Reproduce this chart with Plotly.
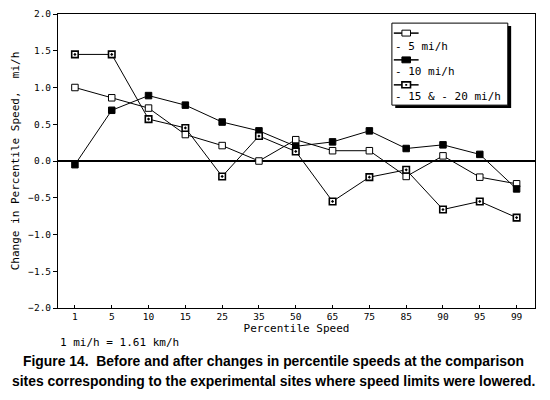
import plotly.graph_objects as go

# percentile categories on the x axis
percentiles = ["1", "5", "10", "15", "25", "35", "50", "65", "75", "85", "90", "95", "99"]

# change in percentile speed (mi/h) per speed limit reduction
change_5mph = [1.00, 0.86, 0.72, 0.36, 0.21, 0.00, 0.29, 0.14, 0.14, -0.21, 0.07, -0.22, -0.31]
change_10mph = [-0.05, 0.69, 0.89, 0.76, 0.53, 0.41, 0.20, 0.26, 0.41, 0.17, 0.22, 0.09, -0.38]
change_15_20mph = [1.45, 1.45, 0.57, 0.45, -0.21, 0.34, 0.13, -0.55, -0.22, -0.12, -0.66, -0.55, -0.77]

legend_labels = ["- 5 mi/h", "- 10 mi/h", "- 15 & - 20 mi/h"]

mono = "DejaVu Sans Mono"

fig = go.Figure()

fig.add_trace(go.Scatter(
    x=percentiles, y=change_5mph, mode="lines+markers", name=legend_labels[0],
    line=dict(color="black", width=1),
    marker=dict(symbol="square", size=6.5, color="white", line=dict(color="black", width=1)),
))
fig.add_trace(go.Scatter(
    x=percentiles, y=change_10mph, mode="lines+markers", name=legend_labels[1],
    line=dict(color="black", width=1),
    marker=dict(symbol="square", size=6.5, color="black", line=dict(color="black", width=1)),
))
fig.add_trace(go.Scatter(
    x=percentiles, y=change_15_20mph, mode="lines+markers", name=legend_labels[2],
    line=dict(color="black", width=1),
    marker=dict(symbol="square-dot", size=6.5, color="white", line=dict(color="black", width=1.6)),
))

# hand-drawn legend box (symbol on one row, label below, like the original)
shapes = [
    dict(type="rect", xref="paper", yref="paper", x0=0.707, x1=0.950, y0=0.680, y1=0.959,
         fillcolor="black", line=dict(width=0)),
    dict(type="rect", xref="paper", yref="paper", x0=0.700, x1=0.943, y0=0.690, y1=0.969,
         fillcolor="white", line=dict(color="black", width=1)),
]
sym_rows = [0.935, 0.844, 0.759]
txt_rows = [0.888, 0.806, 0.718]
fills = ["white", "black", "white"]
for i in range(3):
    yc = sym_rows[i]
    shapes.append(dict(type="line", xref="paper", yref="paper", x0=0.704, x1=0.756, y0=yc, y1=yc,
                       line=dict(color="black", width=1.5)))
    shapes.append(dict(type="rect", xref="paper", yref="paper", x0=0.721, x1=0.739,
                       y0=yc - 0.010, y1=yc + 0.010, fillcolor=fills[i],
                       line=dict(color="black", width=1.6 if i == 2 else 1)))
    if i == 2:
        shapes.append(dict(type="rect", xref="paper", yref="paper", x0=0.728, x1=0.732,
                           y0=yc - 0.003, y1=yc + 0.003, fillcolor="black", line=dict(width=0)))

annotations = [
    dict(text=legend_labels[i], x=0.703, y=txt_rows[i], xref="paper", yref="paper",
         xanchor="left", yanchor="middle", showarrow=False, font=dict(family=mono, size=11))
    for i in range(3)
]
annotations += [
    dict(text="1 mi/h = 1.61 km/h", x=0.0, y=-0.119, xref="paper", yref="paper",
         xanchor="left", yanchor="middle", showarrow=False, font=dict(family=mono, size=11)),
    dict(text="<b>Figure 14.  Before and after changes in percentile speeds at the comparison</b>",
         x=0.452, y=-0.180, xref="paper", yref="paper", xanchor="center", yanchor="middle",
         showarrow=False, font=dict(family="Liberation Sans", size=13.9)),
    dict(text="<b>sites corresponding to the experimental sites where speed limits were lowered.</b>",
         x=0.452, y=-0.248, xref="paper", yref="paper", xanchor="center", yanchor="middle",
         showarrow=False, font=dict(family="Liberation Sans", size=13.9)),
]

# page body adds an 8px offset, so margins are shifted to keep the plot at x 58-535, y 14-308
fig.update_layout(
    width=550, height=400,
    margin=dict(l=50, r=23, t=6, b=100),
    paper_bgcolor="white", plot_bgcolor="white",
    showlegend=False,
    shapes=shapes,
    annotations=annotations,
    font=dict(family=mono, color="black"),
)

fig.update_xaxes(
    type="category", categoryorder="array", categoryarray=percentiles,
    range=[-0.46, 12.5], automargin=False,
    showgrid=False, zeroline=False,
    showline=True, linecolor="black", linewidth=1, mirror=True,
    ticks="inside", ticklen=3, tickcolor="black",
    tickfont=dict(family=mono, size=9.5),
    title=dict(text="Percentile Speed", font=dict(family=mono, size=11), standoff=2),
)
fig.update_yaxes(
    range=[-2, 2], dtick=0.5, tickformat=".1f", automargin=False,
    showgrid=False,
    zeroline=True, zerolinecolor="black", zerolinewidth=1.5,
    showline=True, linecolor="black", linewidth=1, mirror=True,
    ticks="outside", ticklen=4, tickcolor="black",
    tickfont=dict(family=mono, size=9.5),
    title=dict(text="Change in Percentile Speed,  mi/h", font=dict(family=mono, size=11), standoff=6),
)

fig.write_html("out.html")
